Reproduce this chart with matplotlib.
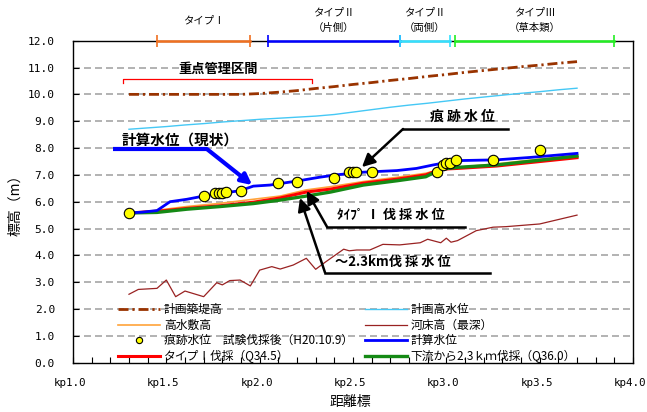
import matplotlib
matplotlib.use("Agg")
from matplotlib import pyplot as plt
from matplotlib.ticker import MultipleLocator, FixedLocator, NullFormatter
import numpy as np

plt.rcParams['font.family'] = ['Noto Sans CJK JP', 'DejaVu Sans']

# 計画築堤高 / 計画高水位 (km, m)
kp_plan = [1.30, 1.40, 1.50, 1.60, 1.70, 1.80, 1.90, 2.00, 2.10, 2.20, 2.30, 2.40, 2.50,
           2.60, 2.70, 2.80, 2.90, 3.00, 3.10, 3.20, 3.30, 3.40, 3.50, 3.60, 3.70]
levee = [10.0, 10.0, 10.0, 10.0, 10.0, 10.0, 10.0, 10.03, 10.08, 10.14, 10.22, 10.29, 10.37,
         10.44, 10.52, 10.59, 10.67, 10.74, 10.82, 10.89, 10.96, 11.03, 11.09, 11.16, 11.22]
hwl = [8.70, 8.75, 8.80, 8.86, 8.91, 8.97, 9.02, 9.07, 9.11, 9.15, 9.19, 9.25, 9.34,
       9.43, 9.52, 9.60, 9.67, 9.75, 9.83, 9.90, 9.97, 10.04, 10.10, 10.17, 10.23]

# 計算水位 (現状)
kp_calc = [1.30, 1.37, 1.45, 1.52, 1.61, 1.70, 1.79, 1.895, 1.966, 2.055, 2.20, 2.32, 2.41,
           2.555, 2.735, 2.84, 2.93, 3.055, 3.27, 3.45, 3.70]
calc = [5.58, 5.61, 5.67, 6.00, 6.09, 6.21, 6.31, 6.41, 6.58, 6.62, 6.77, 6.91, 7.00,
        7.10, 7.16, 7.24, 7.37, 7.53, 7.56, 7.65, 7.80]

# 高水敷高 / タイプI伐採 / 下流から2.3km伐採
kp_w = [1.30, 1.45, 1.61, 1.79, 1.966, 2.11, 2.25, 2.38, 2.555, 2.735, 2.89, 2.97, 3.06, 3.27, 3.70]
ground = [5.58, 5.68, 5.82, 5.94, 6.09, 6.21, 6.44, 6.56, 6.75, 6.91, 7.06, 7.21, 7.28, 7.41, 7.74]
type1 = [5.58, 5.64, 5.75, 5.85, 5.98, 6.14, 6.36, 6.47, 6.69, 6.84, 7.00, 7.21, 7.24, 7.33, 7.64]
cut23 = [5.58, 5.60, 5.72, 5.82, 5.93, 6.06, 6.21, 6.36, 6.62, 6.78, 6.93, 7.21, 7.28, 7.37, 7.70]

# 河床高 (最深)
kp_bed = [1.30, 1.35, 1.45, 1.50, 1.55, 1.60, 1.70, 1.77, 1.80, 1.84, 1.895, 1.95, 2.00, 2.065,
          2.11, 2.18, 2.25, 2.30, 2.35, 2.45, 2.48, 2.52, 2.59, 2.66, 2.75, 2.86, 2.90, 2.97,
          3.00, 3.025, 3.06, 3.16, 3.25, 3.32, 3.50, 3.70]
bed = [2.55, 2.73, 2.77, 3.08, 2.46, 2.67, 2.46, 2.98, 2.90, 3.06, 3.08, 2.86, 3.45, 3.58,
       3.49, 3.64, 3.89, 3.48, 3.74, 4.23, 4.17, 4.20, 4.20, 4.41, 4.39, 4.47, 4.60, 4.47,
       4.64, 4.49, 4.55, 4.92, 5.05, 5.07, 5.17, 5.50]

# 痕跡水位 試験伐採後 (H20.10.9)
kp_trace = [1.30, 1.70, 1.76, 1.78, 1.80, 1.82, 1.90, 2.10, 2.20, 2.40, 2.48, 2.50, 2.515,
            2.60, 2.95, 2.98, 3.00, 3.02, 3.05, 3.25, 3.50]
trace = [5.59, 6.21, 6.31, 6.31, 6.34, 6.36, 6.39, 6.69, 6.75, 6.90, 7.10, 7.10, 7.10,
         7.10, 7.12, 7.37, 7.43, 7.46, 7.56, 7.56, 7.93]

# 上部の区間表示
sections = [("タイプⅠ", 1.45, 1.95, "#f07020"),
            ("タイプⅡ\n（片側）", 2.045, 2.75, "#0000ff"),
            ("タイプⅡ\n（両側）", 2.75, 3.02, "#33e0ff"),
            ("タイプⅢ\n（草本類）", 3.045, 3.90, "#22ee22")]

kp_ticks = [1.0, 1.5, 2.0, 2.5, 3.0, 3.5, 4.0]
kp_labels = ["kp1.0", "kp1.5", "kp2.0", "kp2.5", "kp3.0", "kp3.5", "kp4.0"]

fig = plt.figure(figsize=(6.47, 4.12), dpi=100)
ax = fig.add_axes([0.1128, 0.1197, 0.8656, 0.7815])

ax.set_xlim(1.0, 4.0)
ax.set_ylim(0, 12)
for yv in range(1, 12):
    ax.axhline(yv, color="#a6a6a6", lw=1.2, ls=(0, (4.2, 2.4)), zorder=0)

ax.plot(kp_plan, levee, color="#993300", lw=2, dashes=(3.6, 1.4, 0.8, 1.4), label="計画築堤高", zorder=3)
ax.plot(kp_w, ground, color="#ffa33a", lw=1.2, label="高水敷高", zorder=3)
ax.plot(kp_trace, trace, ls="none", marker="o", ms=7.5, mfc="#ffff00", mec="black", mew=0.8,
        label="痕跡水位　試験伐採後（H20.10.9）", zorder=6)
ax.plot(kp_w, type1, color="#ff0000", lw=2.2, label="タイプⅠ伐採（Q34.5）", zorder=4)
ax.plot(kp_plan, hwl, color="#45c8f5", lw=1, label="計画高水位", zorder=3)
ax.plot(kp_bed, bed, color="#992222", lw=0.9, label="河床高（最深）", zorder=3)
ax.plot(kp_calc, calc, color="#0000ff", lw=2, label="計算水位", zorder=5)
ax.plot(kp_w, cut23, color="#158a15", lw=2.4, label="下流から2.3ｋｍ伐採（Q36.0）", zorder=4)

leg = ax.legend(ncol=2, loc="upper left", bbox_to_anchor=(0.08, 0.185), frameon=False,
                fontsize=8.5, handlelength=3.6, handletextpad=0.3, columnspacing=1.0,
                labelspacing=0.22, borderpad=0, borderaxespad=0, markerscale=0.6)

# 区間表示 (上端)
for name, x0, x1, col in sections:
    ax.plot([x0, x1], [12, 12], color=col, lw=1.8, marker="|", ms=8, mew=1.2,
            clip_on=False, zorder=7)
    ax.text((x0 + x1) / 2, 12.77, name, ha="center", va="center", fontsize=7.5,
            linespacing=1.75, clip_on=False)

# 重点管理区間
ax.plot([1.27, 1.27, 2.28, 2.28], [10.42, 10.57, 10.57, 10.42], color="#ff0000", lw=0.9)
ax.text(1.775, 10.95, "重点管理区間", ha="center", va="center", fontsize=9.5, fontweight="bold")

# 注記
arr = "-|>,head_length=0.7,head_width=0.35"
ax.plot([1.214, 1.718], [7.96, 7.96], color="#0000ff", lw=3, solid_capstyle="butt", zorder=7)
ax.annotate("", xy=(1.96, 6.62), xytext=(1.718, 7.96),
            arrowprops=dict(arrowstyle=arr, color="#0000ff", lw=3, shrinkA=0, shrinkB=0,
                            mutation_scale=9), zorder=7)
ax.text(1.262, 8.3, "計算水位（現状）", fontsize=10.5, fontweight="bold", va="center")

ax.plot([2.768, 3.33], [8.71, 8.71], color="black", lw=1.8, zorder=7)
ax.annotate("", xy=(2.548, 7.29), xytext=(2.768, 8.71),
            arrowprops=dict(arrowstyle=arr, color="black", lw=1.8, shrinkA=0, shrinkB=0,
                            mutation_scale=11), zorder=7)
ax.text(2.912, 9.16, "痕 跡 水 位", fontsize=10, fontweight="bold", va="center")

ax.plot([2.361, 3.10], [5.06, 5.06], color="black", lw=1.8, zorder=7)
ax.annotate("", xy=(2.252, 6.40), xytext=(2.361, 5.06),
            arrowprops=dict(arrowstyle=arr, color="black", lw=1.8, shrinkA=0, shrinkB=0,
                            mutation_scale=11), zorder=7)
ax.text(2.414, 5.5, "ﾀｲﾌﾟ Ⅰ 伐 採 水 位", fontsize=9.5, fontweight="bold", va="center")

ax.plot([2.35, 3.234], [3.36, 3.36], color="black", lw=1.8, zorder=7)
ax.annotate("", xy=(2.216, 6.14), xytext=(2.35, 3.36),
            arrowprops=dict(arrowstyle=arr, color="black", lw=1.8, shrinkA=0, shrinkB=0,
                            mutation_scale=11), zorder=7)
ax.text(2.404, 3.75, "～2.3km伐 採 水 位", fontsize=9.5, fontweight="bold", va="center")

# 軸
ax.xaxis.set_major_locator(FixedLocator(kp_ticks))
ax.xaxis.set_minor_locator(MultipleLocator(0.1))
ax.xaxis.set_major_formatter(NullFormatter())
# 目盛ラベル (少し左へずらす)
for v, lab in zip(kp_ticks, kp_labels):
    ax.annotate(lab, xy=(v, 0), xycoords=("data", "axes fraction"), xytext=(-3, -15),
                textcoords="offset pixels", ha="center", va="top",
                family="DejaVu Sans Mono", fontsize=7.8, annotation_clip=False)
ax.set_yticks(range(0, 13))
ax.set_yticklabels(["%.1f" % v for v in range(0, 13)], family="DejaVu Sans Mono", fontsize=8)
ax.tick_params(axis="x", which="both", direction="in", length=4, width=0.8, pad=10)
ax.tick_params(axis="y", direction="in", length=4, width=0.8, pad=13)
for s in ax.spines.values():
    s.set_linewidth(1.0)

fig.text(0.542, 1 - 402 / 412, "距離標", ha="center", va="center", fontsize=10)
ax.set_ylabel("標高（m）", fontsize=10, labelpad=4)

fig.savefig("out.png", dpi=100)
